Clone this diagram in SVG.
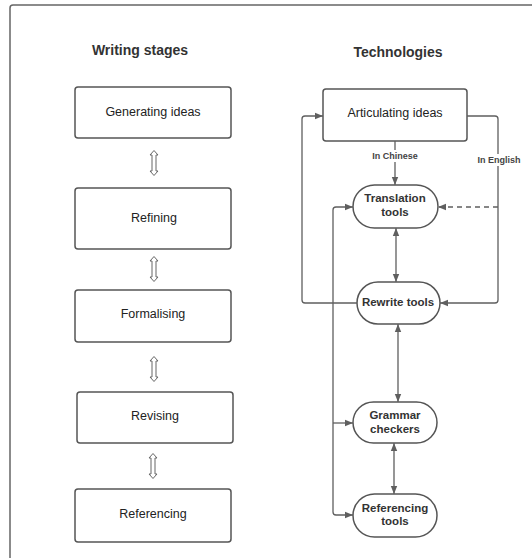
<svg xmlns="http://www.w3.org/2000/svg" width="532" height="558" viewBox="0 0 532 558">
<defs>
<style>
.frame{fill:none;stroke:#666;stroke-width:1.5}
.box{fill:#fff;stroke:#555;stroke-width:1.5}
.t{font-family:"Liberation Sans",Arial,sans-serif;font-size:12.5px;fill:#222;text-anchor:middle;dominant-baseline:central}
.h{font-family:"Liberation Sans",Arial,sans-serif;font-size:14px;font-weight:bold;fill:#333;text-anchor:middle;dominant-baseline:central}
.b{font-family:"Liberation Sans",Arial,sans-serif;font-size:11.5px;font-weight:bold;fill:#333;text-anchor:middle;dominant-baseline:central}
.l{font-family:"Liberation Sans",Arial,sans-serif;font-size:9px;font-weight:bold;fill:#444;text-anchor:middle;dominant-baseline:central}
.c{fill:none;stroke:#5f5f5f;stroke-width:1.3;stroke-linejoin:round}
.d{stroke-dasharray:5 4}
.da{fill:#fff;stroke:#666;stroke-width:1}
</style>
<marker id="ah" viewBox="0 0 10 10" refX="10" refY="5" markerWidth="8" markerHeight="8" markerUnits="userSpaceOnUse" orient="auto-start-reverse">
<path d="M0,1 L10,5 L0,9 z" fill="#5f5f5f"/>
</marker>
<path id="dbl" d="M0,-12.5 L4,-8 L2,-8 L2,8 L4,8 L0,12.5 L-4,8 L-2,8 L-2,-8 L-4,-8 z"/>
</defs>
<rect width="532" height="558" fill="#fff"/>
<rect class="frame" x="10" y="5" width="540" height="560" rx="3"/>

<text class="h" x="140" y="50">Writing stages</text>
<text class="h" x="398" y="52">Technologies</text>

<g id="generating"><rect class="box" x="75" y="87" width="156" height="51" rx="3"/><text class="t" x="153" y="112">Generating ideas</text></g>
<g id="refining"><rect class="box" x="75" y="188" width="156" height="61" rx="3"/><text class="t" x="154" y="218">Refining</text></g>
<g id="formalising"><rect class="box" x="75" y="290" width="156" height="52" rx="3"/><text class="t" x="153" y="314">Formalising</text></g>
<g id="revising"><rect class="box" x="77" y="392" width="156" height="51" rx="3"/><text class="t" x="155" y="416">Revising</text></g>
<g id="referencing"><rect class="box" x="75" y="489" width="156" height="53" rx="3"/><text class="t" x="153" y="514">Referencing</text></g>

<g id="articulating"><rect class="box" x="323" y="89" width="144" height="52" rx="3"/><text class="t" x="395" y="113">Articulating ideas</text></g>
<g id="translation"><rect class="box" x="353" y="185" width="85" height="43" rx="21.5"/><text class="b" x="395" y="198">Translation</text><text class="b" x="395" y="212">tools</text></g>
<g id="rewrite"><rect class="box" x="357" y="282" width="83" height="42" rx="21"/><text class="b" x="398" y="302">Rewrite tools</text></g>
<g id="grammar"><rect class="box" x="353" y="402" width="84" height="41" rx="20.5"/><text class="b" x="395" y="415">Grammar</text><text class="b" x="395" y="429">checkers</text></g>
<g id="reftools"><rect class="box" x="353" y="494" width="84" height="43" rx="21.5"/><text class="b" x="395" y="508">Referencing</text><text class="b" x="395" y="521">tools</text></g>

<g id="connectors">
<use href="#dbl" class="da" x="154" y="163"/>
<use href="#dbl" class="da" x="154" y="269"/>
<use href="#dbl" class="da" x="154" y="369"/>
<use href="#dbl" class="da" x="153" y="466"/>

<path class="c" d="M395,141 V185" marker-end="url(#ah)"/>
<path class="c" d="M357,303 H305 Q302,303 302,300 V119 Q302,116 305,116 H323" marker-end="url(#ah)"/>
<path class="c" d="M467,116 H495 Q498,116 498,119 V300 Q498,303 495,303 H440" marker-end="url(#ah)"/>
<path class="c d" d="M498,207 H438" marker-end="url(#ah)"/>
<path class="c" d="M396,228 V282" marker-start="url(#ah)" marker-end="url(#ah)"/>
<path class="c" d="M398,324 V402" marker-start="url(#ah)" marker-end="url(#ah)"/>
<path class="c" d="M394,443 V494" marker-start="url(#ah)" marker-end="url(#ah)"/>
<path class="c" d="M353,207 H336 Q333,207 333,210 V512 Q333,515 336,515 H353" marker-start="url(#ah)" marker-end="url(#ah)"/>
<path class="c" d="M333,423 H353" marker-end="url(#ah)"/>
<rect x="365" y="150" width="60" height="12" fill="#fff"/>
<text class="l" x="395" y="156">In Chinese</text>
<rect x="475" y="154" width="48" height="12" fill="#fff"/>
<text class="l" x="499" y="160">In English</text>
</g>
</svg>
